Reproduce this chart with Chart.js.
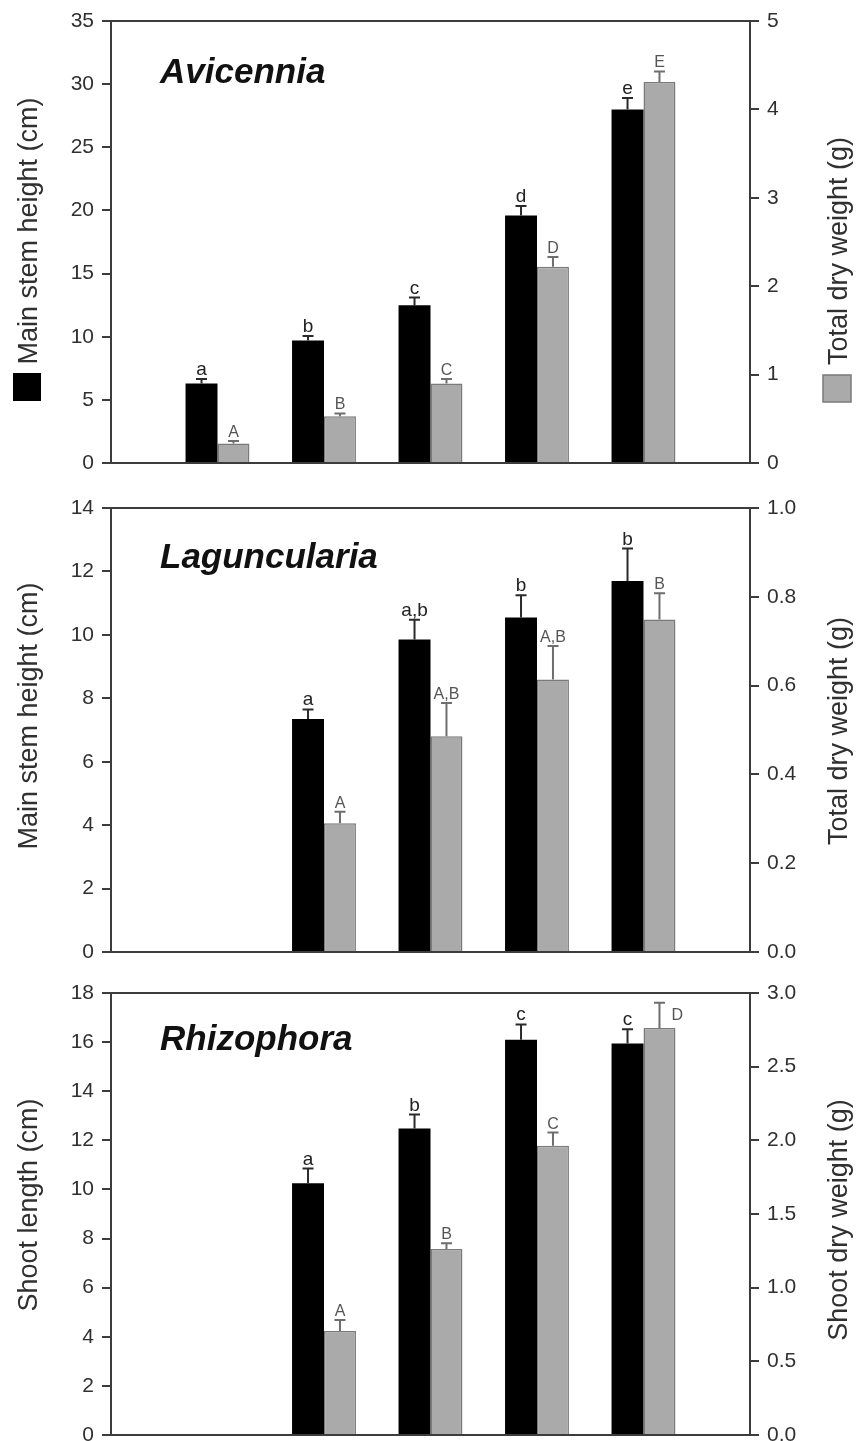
<!DOCTYPE html>
<html>
<head>
<meta charset="utf-8">
<script src="https://cdn.jsdelivr.net/npm/chart.js@4.4.1/dist/chart.umd.min.js"></script>
<style>
  html, body { margin: 0; padding: 0; background: #fff; overflow: hidden; width: 856px; height: 1441px; }
  canvas { position: absolute; left: 0; }
  #avi { top: 0; }
  #lag { top: 480px; }
  #rhi { top: 965px; }
</style>
</head>
<body>
<canvas id="avi" width="856" height="480"></canvas>
<canvas id="lag" width="856" height="485"></canvas>
<canvas id="rhi" width="856" height="500"></canvas>
<script>
// slots along the x axis (no tick labels shown in the figure)
const categories = ["", "T1", "T2", "T3", "T4", "T5", ""];

// Avicennia
const aviHeight = [null, 6.3, 9.7, 12.5, 19.6, 28.0, null];
const aviHeightErr = [null, 0.35, 0.35, 0.6, 0.75, 0.9, null];
const aviHeightLetters = ["", "a", "b", "c", "d", "e", ""];
const aviWeight = [null, 0.22, 0.53, 0.9, 2.22, 4.31, null];
const aviWeightErr = [null, 0.03, 0.03, 0.05, 0.11, 0.12, null];
const aviWeightLetters = ["", "A", "B", "C", "D", "E", ""];
const aviLeftTicks = [0, 5, 10, 15, 20, 25, 30, 35];
const aviRightTicks = [0, 1, 2, 3, 4, 5];

// Laguncularia
const lagHeight = [null, null, 7.35, 9.85, 10.55, 11.7, null];
const lagHeightErr = [null, null, 0.3, 0.63, 0.7, 1.02, null];
const lagHeightLetters = ["", "", "a", "a,b", "b", "b", ""];
const lagWeight = [null, null, 0.29, 0.486, 0.614, 0.749, null];
const lagWeightErr = [null, null, 0.026, 0.075, 0.075, 0.059, null];
const lagWeightLetters = ["", "", "A", "A,B", "A,B", "B", ""];
const lagLeftTicks = [0, 2, 4, 6, 8, 10, 12, 14];
const lagRightTicks = [0, 0.2, 0.4, 0.6, 0.8, 1.0];

// Rhizophora
const rhiLength = [null, null, 10.25, 12.48, 16.1, 15.94, null];
const rhiLengthErr = [null, null, 0.6, 0.57, 0.62, 0.58, null];
const rhiLengthLetters = ["", "", "a", "b", "c", "c", ""];
const rhiWeight = [null, null, 0.706, 1.262, 1.963, 2.763, null];
const rhiWeightErr = [null, null, 0.075, 0.04, 0.09, 0.17, null];
const rhiWeightLetters = ["", "", "A", "B", "C", "D", ""];
const rhiLeftTicks = [0, 2, 4, 6, 8, 10, 12, 14, 16, 18];
const rhiRightTicks = [0, 0.5, 1.0, 1.5, 2.0, 2.5, 3.0];

const FONT = '"Liberation Sans", Arial, sans-serif';
const AXIS = "#3c3c3c";
const TEXT = "#303030";

function yAxis(pos, ticks, decimals, width) {
  return {
    type: "linear",
    position: pos,
    min: ticks[0],
    max: ticks[ticks.length - 1],
    afterBuildTicks: (s) => {
      s.ticks = ticks.map((v) => ({ value: v }));
    },
    afterFit: (s) => {
      s.width = width;
      s.paddingTop = 0;
      s.paddingBottom = 0;
    },
    ticks: {
      font: { family: FONT, size: 21 },
      color: TEXT,
      padding: 8,
      callback: (v) => Number(v).toFixed(decimals),
    },
    grid: { display: true, drawOnChartArea: false, drawTicks: true, tickLength: 9, color: AXIS, lineWidth: 2 },
    border: { display: true, color: AXIS, width: 2 },
  };
}

function xAxis(pos) {
  return {
    type: "category",
    position: pos,
    offset: false,
    ticks: { display: false },
    grid: { display: false, drawTicks: false },
    border: { display: true, color: AXIS, width: 2 },
    afterFit: (s) => {
      s.height = 0;
      s.paddingLeft = 0;
      s.paddingRight = 0;
    },
  };
}

function makeDecor(p) {
  return {
    id: "decor",
    afterDatasetsDraw(chart) {
      const ctx = chart.ctx;
      const area = chart.chartArea;
      chart.data.datasets.forEach((ds, i) => {
        const meta = chart.getDatasetMeta(i);
        const yScale = chart.scales[ds.yAxisID];
        ds.data.forEach((v, j) => {
          if (v == null) return;
          const bar = meta.data[j];
          const yCap = yScale.getPixelForValue(v + ds.errors[j]);
          ctx.save();
          ctx.strokeStyle = ds.errColor;
          ctx.lineWidth = 2;
          ctx.beginPath();
          ctx.moveTo(bar.x, bar.y);
          ctx.lineTo(bar.x, yCap);
          ctx.moveTo(bar.x - 5.5, yCap);
          ctx.lineTo(bar.x + 5.5, yCap);
          ctx.stroke();
          ctx.font = ds.letterFont;
          ctx.fillStyle = ds.letterColor;
          if (yCap - 18 < area.top) {
            // no room above the cap: put the letter beside it
            ctx.textAlign = "left";
            ctx.textBaseline = "middle";
            ctx.fillText(ds.letters[j], bar.x + 12, (yCap + bar.y) / 2);
          } else {
            ctx.textAlign = "center";
            ctx.textBaseline = "alphabetic";
            ctx.fillText(ds.letters[j], bar.x, yCap - 4);
          }
          ctx.restore();
        });
      });
    },
    afterDraw(chart) {
      const ctx = chart.ctx;
      ctx.save();
      ctx.fillStyle = "#111";
      ctx.font = "italic bold 35px " + FONT;
      ctx.textAlign = "left";
      ctx.textBaseline = "alphabetic";
      ctx.fillText(p.name, 160, p.nameY);

      ctx.fillStyle = TEXT;
      ctx.font = "27px " + FONT;
      ctx.textAlign = "center";
      [[37, p.leftY, p.leftTitle], [847, p.rightY, p.rightTitle]].forEach(([x, y, t]) => {
        ctx.save();
        ctx.translate(x, y);
        ctx.rotate(-Math.PI / 2);
        ctx.fillText(t, 0, 0);
        ctx.restore();
      });

      if (p.keys) {
        ctx.fillStyle = "#000";
        ctx.fillRect(13, 373, 28, 28);
        ctx.fillStyle = "#aaaaaa";
        ctx.fillRect(823, 375, 28, 27);
        ctx.strokeStyle = "#7a7a7a";
        ctx.lineWidth = 1.5;
        ctx.strokeRect(823, 375, 28, 27);
      }
      ctx.restore();
    },
  };
}

function makePanel(id, p) {
  new Chart(document.getElementById(id), {
    type: "bar",
    data: {
      labels: categories,
      datasets: [
        {
          label: p.leftTitle,
          data: p.black,
          errors: p.blackErr,
          letters: p.blackLetters,
          yAxisID: "yL",
          backgroundColor: "#000",
          borderWidth: 0,
          errColor: "#2a2a2a",
          letterColor: "#222",
          letterFont: "19px " + FONT,
        },
        {
          label: p.rightTitle,
          data: p.gray,
          errors: p.grayErr,
          letters: p.grayLetters,
          yAxisID: "yR",
          backgroundColor: "#aaaaaa",
          borderColor: "#7a7a7a",
          borderWidth: 1.5,
          errColor: "#6e6e6e",
          letterColor: "#555",
          letterFont: "16px " + FONT,
        },
      ],
    },
    options: {
      responsive: false,
      animation: false,
      devicePixelRatio: 1,
      datasets: { bar: { categoryPercentage: 0.6, barPercentage: 1.0 } },
      layout: { padding: { top: p.padTop, bottom: p.padBottom, left: 0, right: 0 } },
      plugins: { legend: { display: false }, tooltip: { enabled: false } },
      scales: {
        x: xAxis("bottom"),
        xt: xAxis("top"),
        yL: yAxis("left", p.leftTicks, 0, 111),
        yR: yAxis("right", p.rightTicks, p.rightDecimals, 106),
      },
    },
    plugins: [makeDecor(p)],
  });
}

makePanel("avi", {
  name: "Avicennia", nameY: 83,
  black: aviHeight, blackErr: aviHeightErr, blackLetters: aviHeightLetters,
  gray: aviWeight, grayErr: aviWeightErr, grayLetters: aviWeightLetters,
  leftTicks: aviLeftTicks, rightTicks: aviRightTicks, rightDecimals: 0,
  leftTitle: "Main stem height (cm)", leftY: 231,
  rightTitle: "Total dry weight (g)", rightY: 251,
  keys: true, padTop: 21, padBottom: 17,
});

makePanel("lag", {
  name: "Laguncularia", nameY: 88,
  black: lagHeight, blackErr: lagHeightErr, blackLetters: lagHeightLetters,
  gray: lagWeight, grayErr: lagWeightErr, grayLetters: lagWeightLetters,
  leftTicks: lagLeftTicks, rightTicks: lagRightTicks, rightDecimals: 1,
  leftTitle: "Main stem height (cm)", leftY: 236,
  rightTitle: "Total dry weight (g)", rightY: 251,
  keys: false, padTop: 28, padBottom: 13,
});

makePanel("rhi", {
  name: "Rhizophora", nameY: 85,
  black: rhiLength, blackErr: rhiLengthErr, blackLetters: rhiLengthLetters,
  gray: rhiWeight, grayErr: rhiWeightErr, grayLetters: rhiWeightLetters,
  leftTicks: rhiLeftTicks, rightTicks: rhiRightTicks, rightDecimals: 1,
  leftTitle: "Shoot length (cm)", leftY: 240,
  rightTitle: "Shoot dry weight (g)", rightY: 255,
  keys: false, padTop: 28, padBottom: 30,
});
</script>
</body>
</html>
